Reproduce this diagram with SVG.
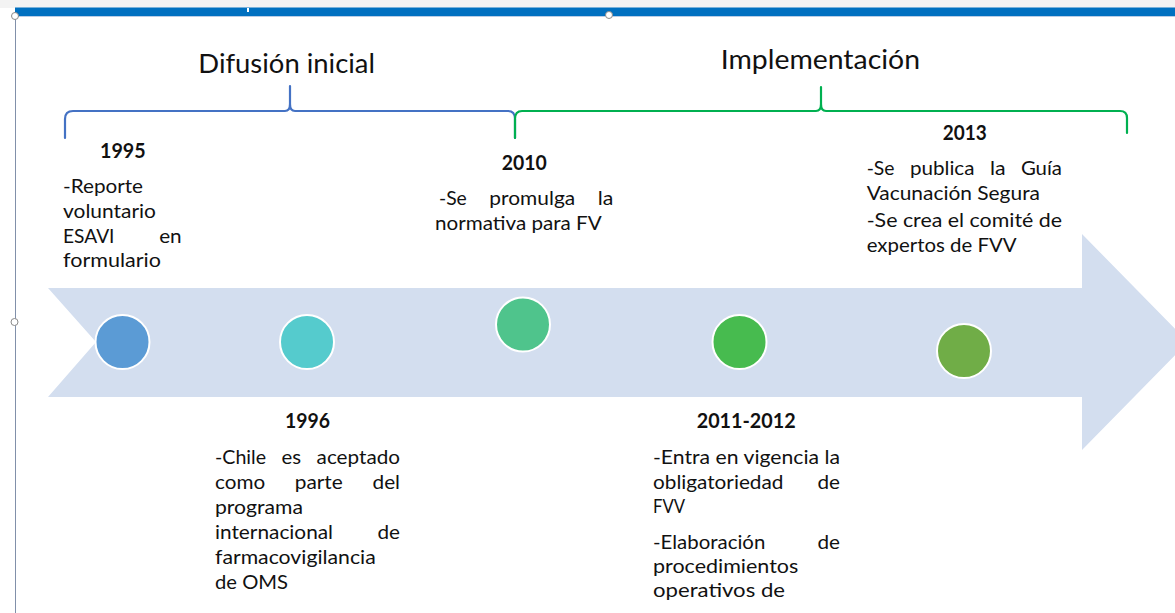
<svg xmlns="http://www.w3.org/2000/svg" width="1175" height="613" viewBox="0 0 1175 613">
<style>
.t{font-family:Lato,"Liberation Sans",sans-serif;font-size:20px;fill:#111}
.b{font-weight:bold}
.ti{font-size:26.5px}
.dot{stroke:#fff;stroke-width:2}
.br{fill:none;stroke-width:2.2;stroke-linecap:round;stroke-linejoin:round}
.h{fill:#fff;stroke:#8a8a8a;stroke-width:1}
</style>
<rect x="0" y="0" width="1175" height="613" fill="#fff"/>
<rect x="0" y="0" width="1175" height="8" fill="#f3f3f3"/>
<g id="frame">
<rect x="15" y="7.5" width="1160" height="8.5" fill="#0070C0"/>
<rect x="15" y="16" width="1160" height="1" fill="#b9cde6"/>
<rect x="247" y="8" width="2" height="4" fill="#fff"/>
<line x1="15.5" y1="16" x2="15.5" y2="613" stroke="#8190aa" stroke-width="1"/>
<circle class="h" cx="15" cy="16" r="3.5"/>
<circle class="h" cx="609" cy="15" r="3.5"/>
<circle class="h" cx="14.5" cy="322" r="3.5"/>
</g>
<g id="arrow">
<polygon points="48,288 1082,288 1082,234 1188,342 1082,450 1082,397 48,397 96,342" fill="#D3DEEF"/>
</g>
<g id="connectors">
<path class="br" stroke="#4472C4" d="M65,138 V119 Q65,111 73,111 H285 Q290,111 290,104 V86 V104 Q290,111 295,111 H508 Q515,111 515,119 V138"/>
<path class="br" stroke="#00B050" d="M515,138 V119 Q515,111 522,111 H816 Q821,111 821,104 V87 V104 Q821,111 826,111 H1120 Q1127,111 1127,118 V133"/>
</g>
<g id="phase-difusion">
<text class="t ti" x="198.3" y="73.3" textLength="176.7" lengthAdjust="spacingAndGlyphs">Difusión inicial</text>
</g>
<g id="phase-implementacion">
<text class="t ti" x="720.7" y="69.3" textLength="199.3" lengthAdjust="spacingAndGlyphs">Implementación</text>
</g>
<g id="event-1995">
<circle class="dot" cx="122.5" cy="342" r="27" fill="#5B9BD5"/>
<text class="t b" x="100" y="158" textLength="45.7" lengthAdjust="spacingAndGlyphs">1995</text>
<text class="t" x="63" y="193" textLength="80" lengthAdjust="spacingAndGlyphs">-Reporte</text>
<text class="t" x="63" y="218" textLength="93" lengthAdjust="spacingAndGlyphs">voluntario</text>
<text class="t" x="63" y="243" textLength="51.5" lengthAdjust="spacingAndGlyphs">ESAVI</text>
<text class="t" x="159.2" y="243" textLength="22.5" lengthAdjust="spacingAndGlyphs">en</text>
<text class="t" x="63" y="267" textLength="98" lengthAdjust="spacingAndGlyphs">formulario</text>
</g>
<g id="event-1996">
<circle class="dot" cx="307" cy="342" r="27" fill="#55CBCD"/>
<text class="t b" x="285" y="428" textLength="45" lengthAdjust="spacingAndGlyphs">1996</text>
<text class="t" x="215" y="464" textLength="51" lengthAdjust="spacingAndGlyphs">-Chile</text>
<text class="t" x="281.5" y="464" textLength="19.6" lengthAdjust="spacingAndGlyphs">es</text>
<text class="t" x="316.6" y="464" textLength="83.4" lengthAdjust="spacingAndGlyphs">aceptado</text>
<text class="t" x="215" y="488.9" textLength="50.1" lengthAdjust="spacingAndGlyphs">como</text>
<text class="t" x="294.7" y="488.9" textLength="48.1" lengthAdjust="spacingAndGlyphs">parte</text>
<text class="t" x="372.5" y="488.9" textLength="27.5" lengthAdjust="spacingAndGlyphs">del</text>
<text class="t" x="215" y="513.8" textLength="88" lengthAdjust="spacingAndGlyphs">programa</text>
<text class="t" x="215" y="538.7" textLength="118" lengthAdjust="spacingAndGlyphs">internacional</text>
<text class="t" x="377.5" y="538.7" textLength="22.5" lengthAdjust="spacingAndGlyphs">de</text>
<text class="t" x="215" y="563.6" textLength="160.7" lengthAdjust="spacingAndGlyphs">farmacovigilancia</text>
<text class="t" x="215" y="588.5" textLength="73" lengthAdjust="spacingAndGlyphs">de OMS</text>
</g>
<g id="event-2010">
<circle class="dot" cx="523" cy="324.5" r="27" fill="#4FC48C"/>
<text class="t b" x="501.7" y="170" textLength="45" lengthAdjust="spacingAndGlyphs">2010</text>
<text class="t" x="439" y="205" textLength="27.8" lengthAdjust="spacingAndGlyphs">-Se</text>
<text class="t" x="489.3" y="205" textLength="85.9" lengthAdjust="spacingAndGlyphs">promulga</text>
<text class="t" x="597.7" y="205" textLength="15.6" lengthAdjust="spacingAndGlyphs">la</text>
<text class="t" x="435" y="230" textLength="166.7" lengthAdjust="spacingAndGlyphs">normativa para FV</text>
</g>
<g id="event-2011-2012">
<circle class="dot" cx="739.5" cy="342" r="27" fill="#47BB4F"/>
<text class="t b" x="696.7" y="428" textLength="99" lengthAdjust="spacingAndGlyphs">2011-2012</text>
<text class="t" x="653" y="464" textLength="187" lengthAdjust="spacingAndGlyphs">-Entra en vigencia la</text>
<text class="t" x="653" y="488.5" textLength="130.4" lengthAdjust="spacingAndGlyphs">obligatoriedad</text>
<text class="t" x="817.5" y="488.5" textLength="22.5" lengthAdjust="spacingAndGlyphs">de</text>
<text class="t" x="653" y="512.5" textLength="32" lengthAdjust="spacingAndGlyphs">FVV</text>
<text class="t" x="653" y="548.5" textLength="112.3" lengthAdjust="spacingAndGlyphs">-Elaboración</text>
<text class="t" x="817.5" y="548.5" textLength="22.5" lengthAdjust="spacingAndGlyphs">de</text>
<text class="t" x="653" y="573" textLength="145.3" lengthAdjust="spacingAndGlyphs">procedimientos</text>
<text class="t" x="653" y="597" textLength="132" lengthAdjust="spacingAndGlyphs">operativos de</text>
</g>
<g id="event-2013">
<circle class="dot" cx="964" cy="351" r="27" fill="#70AD47"/>
<text class="t b" x="942.7" y="140" textLength="44" lengthAdjust="spacingAndGlyphs">2013</text>
<text class="t" x="866.7" y="175" textLength="27.8" lengthAdjust="spacingAndGlyphs">-Se</text>
<text class="t" x="909.9" y="175" textLength="64.6" lengthAdjust="spacingAndGlyphs">publica</text>
<text class="t" x="989.9" y="175" textLength="15.6" lengthAdjust="spacingAndGlyphs">la</text>
<text class="t" x="1020.9" y="175" textLength="41.1" lengthAdjust="spacingAndGlyphs">Guía</text>
<text class="t" x="866.7" y="200" textLength="173.3" lengthAdjust="spacingAndGlyphs">Vacunación Segura</text>
<text class="t" x="866.7" y="227" textLength="195.3" lengthAdjust="spacingAndGlyphs">-Se crea el comité de</text>
<text class="t" x="866.7" y="252" textLength="150" lengthAdjust="spacingAndGlyphs">expertos de FVV</text>
</g>
</svg>
